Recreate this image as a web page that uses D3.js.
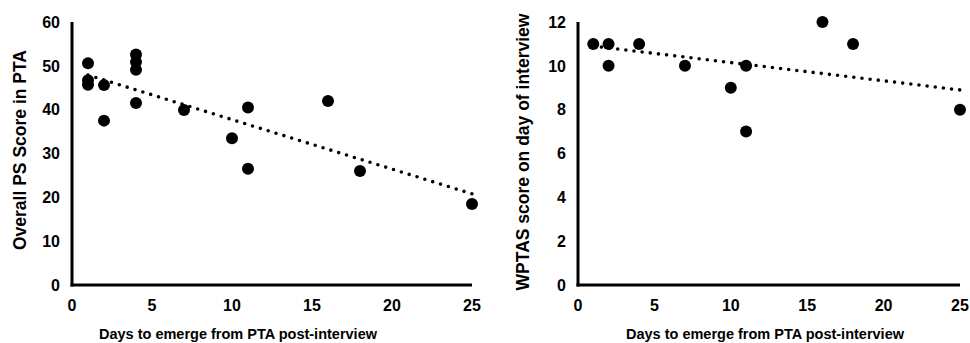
<!DOCTYPE html>
<html><head><meta charset="utf-8">
<script src="https://cdn.jsdelivr.net/npm/d3@7"></script>
<style>
body{margin:0;background:#fff;}
text{font-family:"Liberation Sans",Arial,sans-serif;font-weight:bold;fill:#000;}
</style></head>
<body><svg id="c" width="970" height="343"></svg>
<script>
const xTicks = [0,5,10,15,20,25];
const xTitle = "Days to emerge from PTA post-interview";

const leftX = [1,1,1,2,2,4,4,4,4,7,10,11,11,16,18,25];
const leftY = [50.6,46.7,45.7,45.6,37.5,52.6,50.9,49.1,41.5,39.9,33.5,40.5,26.5,42,26,18.5];
const leftTrendX = [1,25];
const leftTrendY = [47.9,20.8];
const leftYTicks = [0,10,20,30,40,50,60];
const leftYTitle = "Overall PS Score in PTA";

const rightX = [1,2,2,4,7,10,11,11,16,18,25];
const rightY = [11,11,10,11,10,9,10,7,12,11,8];
const rightTrendX = [1,25];
const rightTrendY = [10.9,8.9];
const rightYTicks = [0,2,4,6,8,10,12];
const rightYTitle = "WPTAS score on day of interview";

const svg = d3.select("#c");

function panel(o){
  const g = svg.append("g");
  const x = d3.scaleLinear().domain([0,25]).range([o.x0,o.x1]);
  const y = d3.scaleLinear().domain([0,o.ymax]).range([285,22]);
  g.append("line").attr("x1",x(0)).attr("x2",x(0)).attr("y1",y(o.ymax)).attr("y2",y(0)+1.5)
    .attr("stroke","#000").attr("stroke-width",3);
  g.append("line").attr("x1",x(0)-1.5).attr("x2",x(25)).attr("y1",y(0)).attr("y2",y(0))
    .attr("stroke","#000").attr("stroke-width",3);
  g.selectAll(".yt").data(o.yTicks).join("text")
    .attr("x",x(0)-12).attr("y",d=>y(d)).attr("dy","0.36em")
    .attr("text-anchor","end").attr("font-size",16).text(d=>d);
  g.selectAll(".xt").data(xTicks).join("text")
    .attr("x",d=>x(d)).attr("y",305).attr("dy","0.36em")
    .attr("text-anchor","middle").attr("font-size",16).text(d=>d);
  g.append("text").attr("x",o.xtc).attr("y",333.5).attr("dy","0.36em")
    .attr("text-anchor","middle").attr("font-size",14.5).text(xTitle);
  g.append("text").attr("transform",`translate(${o.ytx},${o.ytc}) rotate(-90)`)
    .attr("dy","0.36em").attr("text-anchor","middle").attr("font-size",17.5).text(o.yTitle);
  g.append("line").attr("x1",x(o.tx[0])).attr("y1",y(o.ty[0]))
    .attr("x2",x(o.tx[1])).attr("y2",y(o.ty[1]))
    .attr("stroke","#000").attr("stroke-width",3.6).attr("stroke-linecap","round")
    .attr("stroke-dasharray","0 8.2");
  g.selectAll("circle").data(o.xs.map((d,i)=>[d,o.ys[i]])).join("circle")
    .attr("cx",d=>x(d[0])).attr("cy",d=>y(d[1])).attr("r",6).attr("fill","#000");
}

panel({x0:72,x1:472,ymax:60,yTicks:leftYTicks,yTitle:leftYTitle,xs:leftX,ys:leftY,
  tx:leftTrendX,ty:leftTrendY,xtc:238,ytx:20,ytc:150});
panel({x0:578,x1:960,ymax:12,yTicks:rightYTicks,yTitle:rightYTitle,xs:rightX,ys:rightY,
  tx:rightTrendX,ty:rightTrendY,xtc:765,ytx:523,ytc:152});
</script></body></html>
